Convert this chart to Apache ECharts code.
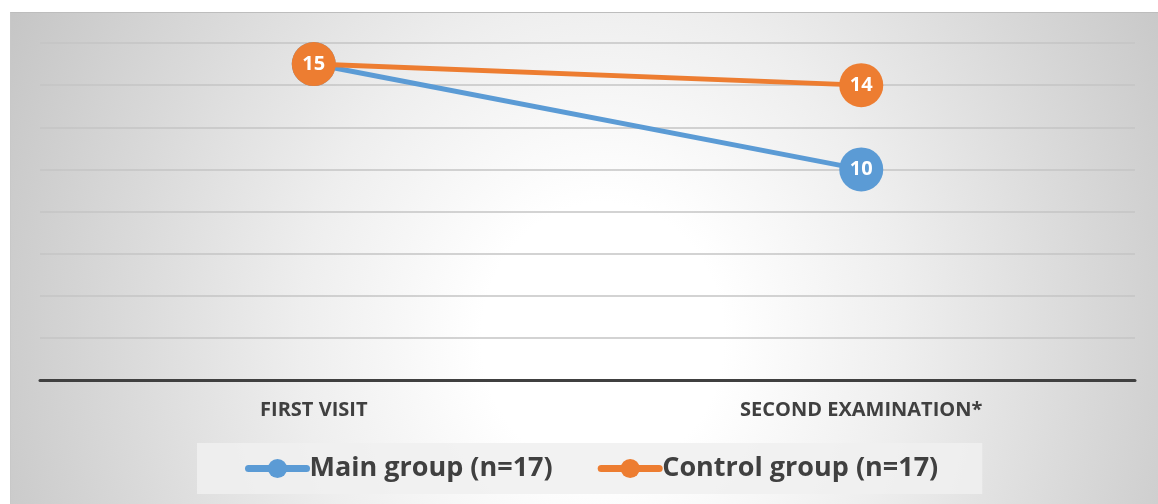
<!DOCTYPE html>
<html><head><meta charset="utf-8">
<script src="https://cdn.jsdelivr.net/npm/echarts@6/dist/echarts.min.js"></script>
<style>
html,body{margin:0;padding:0;background:#fff;}
#bg{position:absolute;left:10px;top:12px;width:1160px;height:500px;
 background:radial-gradient(ellipse 58% 150% at 51% 65%, #ffffff 0%, #ffffff 18%, #eeeeee 45%, #d9d9d9 72%, #c4c4c4 100%);
 border-top:1.5px solid #bdbdbd;border-left:1px solid #c8c8c8;}
#c{position:absolute;left:0;top:0;width:1158px;height:504px;}
</style></head>
<body>
<div id="bg"></div>
<div id="c"></div>
<script>
const categories = ['FIRST VISIT', 'SECOND EXAMINATION*'];
const mainGroup = [15, 10];
const controlGroup = [15, 14];
const seriesNames = ['Main group (n=17)', 'Control group (n=17)'];

const chart = echarts.init(document.getElementById('c'));
const labelCfg = {show: true, position: 'inside', color: '#fff', fontWeight: 'bold', fontSize: 20, fontFamily: 'Open Sans'};
chart.setOption({
  backgroundColor: 'transparent',
  animation: false,
  grid: {left: 40, right: 23, top: 43, bottom: 124},
  xAxis: {
    type: 'category', data: categories, boundaryGap: true,
    axisLine: {lineStyle: {color: '#404040', width: 3}},
    axisTick: {show: false},
    axisLabel: {color: '#404040', fontWeight: 'bold', fontSize: 20, fontFamily: 'Open Sans', margin: 20}
  },
  yAxis: {
    type: 'value', min: 0, max: 16, interval: 2,
    axisLabel: {show: false}, axisLine: {show: false}, axisTick: {show: false},
    splitLine: {lineStyle: {color: '#c4c4c4', width: 1.5}}
  },
  legend: {
    top: 443, left: 197,
    data: seriesNames,
    itemWidth: 58, itemHeight: 24, itemGap: 45,
    padding: [12, 44, 12, 48],
    backgroundColor: 'rgba(240,240,240,0.85)',
    lineStyle: {width: 7, cap: 'round'},
    textStyle: {color: '#404040', fontSize: 27, fontWeight: 'bold', fontFamily: 'Open Sans', padding: [0, 0, 0, -2]}
  },
  series: [
    {name: seriesNames[0], type: 'line', data: mainGroup, symbol: 'circle', symbolSize: 44,
     lineStyle: {color: '#5b9bd5', width: 5}, itemStyle: {color: '#5b9bd5'}, label: labelCfg, z: 2},
    {name: seriesNames[1], type: 'line', data: controlGroup, symbol: 'circle', symbolSize: 44,
     lineStyle: {color: '#ed7d31', width: 5}, itemStyle: {color: '#ed7d31'}, label: labelCfg, z: 3}
  ]
});
</script>
</body></html>
